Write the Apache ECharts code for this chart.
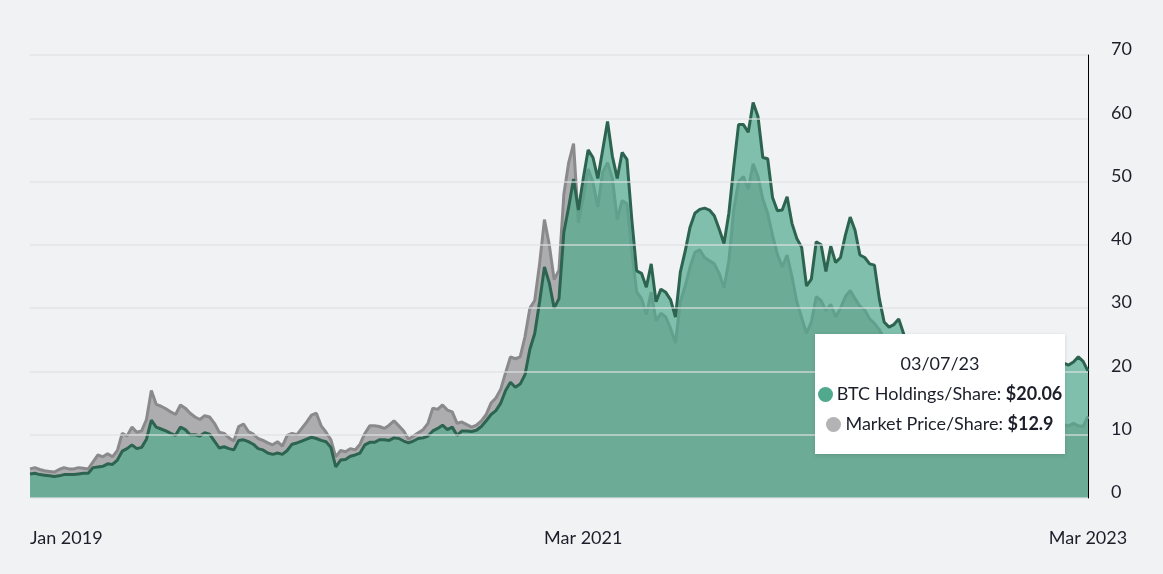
<!DOCTYPE html>
<html><head><meta charset="utf-8">
<script src="https://cdn.jsdelivr.net/npm/echarts@6/dist/echarts.min.js"></script>
<style>html,body{margin:0;padding:0;background:#f1f2f4}#c{width:1163px;height:574px}</style>
</head><body><div id="c"></div>
<script>
// Weekly observations, first date and step
const firstDate = '2019-01-01';
const stepDays = 7;

// BTC Holdings per share (USD), weekly
const holdings = [3.8,3.9,3.7,3.6,3.5,3.4,3.5,3.7,3.7,3.7,
3.8,3.9,3.9,4.8,4.9,5.0,5.4,5.3,6.0,7.4,
7.8,8.4,7.8,8.0,9.3,12.3,11.2,10.9,10.6,10.2,
9.9,11.2,10.8,10.0,10.0,9.8,10.3,10.1,9.0,7.9,
8.1,7.8,7.6,9.1,9.2,8.9,8.5,7.8,7.6,7.1,
6.9,7.1,6.9,7.5,8.5,8.7,9.0,9.3,9.6,9.4,
9.1,8.9,8.0,4.9,6.0,6.1,6.6,6.8,7.1,8.4,
8.8,8.8,9.2,9.2,9.1,9.5,9.4,9.0,8.7,9.0,
9.4,9.5,9.8,10.6,11.0,11.5,10.8,11.2,9.9,10.6,
10.6,10.5,10.7,11.3,12.2,13.2,13.8,15.0,17.0,18.3,
17.5,18.0,19.5,23.5,26.0,31.0,36.5,34.0,30.0,31.5,
42.0,46.0,50.4,45.5,50.5,55.0,53.8,50.5,55.0,59.5,
54.0,50.5,54.6,53.5,44.0,35.9,35.5,33.3,37.0,31.0,
33.0,32.5,31.3,28.6,35.7,39.0,42.8,45.0,45.6,45.8,
45.5,44.6,42.5,40.2,45.0,52.3,59.0,59.0,57.8,62.5,
60.3,53.8,53.6,47.5,45.4,45.5,47.6,43.4,41.0,39.6,
33.5,34.6,40.5,40.0,35.8,39.8,37.2,38.0,41.5,44.4,
42.3,38.4,38.0,37.0,36.8,31.5,27.8,27.0,27.4,28.3,
26.0,19.0,19.2,18.6,19.0,21.4,20.2,21.3,21.6,22.3,
19.6,18.9,18.2,20.0,17.9,18.0,18.4,17.8,17.9,18.5,
19.0,17.2,15.5,14.8,15.4,15.9,16.4,15.6,15.4,15.6,
16.5,19.3,20.8,21.3,21.0,21.5,22.3,21.6,20.06];

// Market price per share (USD), weekly
const market = [4.6,4.8,4.5,4.3,4.2,4.1,4.5,4.8,4.6,4.6,
4.8,4.7,4.6,5.7,6.8,6.5,7.0,6.5,7.5,10.2,
9.8,11.2,10.4,10.6,12.4,17.0,14.8,14.5,14.1,13.6,
13.2,14.7,14.2,13.4,12.8,12.4,13.0,12.8,11.8,10.4,
10.2,9.5,9.0,11.3,11.7,10.5,10.1,9.4,9.1,8.7,
8.4,8.9,8.2,9.9,10.2,10.0,11.0,12.0,13.1,13.4,
11.4,10.4,9.2,6.5,7.5,7.3,7.8,7.6,8.5,10.2,
11.4,11.4,11.3,11.0,11.5,12.2,11.4,10.6,9.3,9.8,
10.3,10.8,11.8,14.2,14.0,14.7,13.9,13.6,11.8,12.0,
11.6,11.2,11.5,12.2,13.2,15.0,15.8,17.2,19.8,22.3,
22.0,22.3,25.5,30.0,31.2,37.0,44.0,40.0,34.5,36.0,
48.0,53.0,56.0,43.5,47.5,52.0,49.9,46.0,51.5,53.0,
50.5,44.0,47.0,46.5,39.0,32.6,31.5,29.0,32.5,28.0,
29.2,28.6,26.8,24.5,31.0,33.5,36.5,38.8,39.2,38.0,
37.5,37.0,35.5,33.2,37.5,45.5,50.0,50.8,48.8,52.8,
50.8,47.2,45.0,41.5,38.5,36.5,38.4,35.0,31.0,28.5,
26.0,27.8,31.8,31.2,29.6,30.6,28.6,30.0,31.8,32.8,
31.5,30.3,29.7,28.3,27.6,26.6,25.2,24.0,23.4,22.8,
21.0,11.5,12.0,11.8,12.2,13.5,13.0,14.0,14.5,14.8,
13.2,12.6,12.0,13.0,11.8,11.5,11.8,11.2,11.0,11.4,
11.8,10.0,8.6,8.0,8.2,8.5,8.4,7.6,7.3,7.5,
8.5,10.2,11.0,11.6,11.4,11.8,11.4,11.3,12.9];

const seriesNames = ['BTC Holdings/Share', 'Market Price/Share'];
const xTickIndex = [0, 114, 218];
const xTickLabels = ['Jan 2019', 'Mar 2021', 'Mar 2023'];
const yTicks = [0, 10, 20, 30, 40, 50, 60, 70];
const tooltipIndex = 218;

const dates = [];
{
  const t0 = Date.parse(firstDate + 'T00:00:00Z');
  for (let i = 0; i < holdings.length; i++) {
    dates.push(new Date(t0 + i * stepDays * 86400000).toISOString().slice(0, 10));
  }
}
function fmtDate(s) { return s.slice(5, 7) + '/' + s.slice(8, 10) + '/' + s.slice(2, 4); }

const FONT = 'Lato, "Noto Sans", sans-serif';
const FS = 18;
const TXT = '#1c1f2a';
const GREEN = '#50a98c';
const GREY_MARK = '#b3b3b5';

const chart = echarts.init(document.getElementById('c'), null, {renderer: 'canvas'});
const gridLine = {color: 'rgba(224,225,229,0.8)', width: 1.5};

chart.setOption({
  animation: false,
  backgroundColor: '#f1f2f4',
  grid: {left: 30, right: 75, top: 55, bottom: 76},
  tooltip: {
    trigger: 'axis',
    triggerOn: 'none',
    alwaysShowContent: true,
    axisPointer: {type: 'none'},
    position: [815, 334],
    backgroundColor: '#ffffff',
    borderWidth: 0,
    padding: [14, 2, 16, 2],
    transitionDuration: 0,
    extraCssText: 'box-shadow:0 1px 4px rgba(0,0,0,0.13);border-radius:0;width:246px;text-align:center;',
    textStyle: {fontSize: FS, color: TXT, fontFamily: FONT},
    formatter: function (params) {
      const idx = params[0].dataIndex;
      const dot = c => '<span style="display:inline-block;width:15px;height:15px;border-radius:50%;background:' + c + ';vertical-align:-2px;margin-right:4px"></span>';
      return '<div style="line-height:30px;white-space:nowrap;font-family:' + FONT.replace(/"/g, "'") + ';font-size:' + FS + 'px;color:' + TXT + '">' +
        '<div>' + fmtDate(dates[idx]) + '</div>' +
        '<div>' + dot(GREEN) + seriesNames[0] + ': <b>$' + holdings[idx] + '</b></div>' +
        '<div>' + dot(GREY_MARK) + seriesNames[1] + ': <b>$' + market[idx] + '</b></div>' +
        '</div>';
    }
  },
  xAxis: {
    type: 'category',
    data: dates,
    boundaryGap: false,
    axisLine: {show: false},
    axisTick: {show: false},
    splitLine: {show: false},
    axisLabel: {
      interval: function (i) { return xTickIndex.indexOf(i) >= 0; },
      formatter: function (v, i) { const k = xTickIndex.indexOf(i); return k >= 0 ? xTickLabels[k] : ''; },
      margin: 31,
      fontSize: FS,
      fontFamily: FONT,
      color: TXT,
      alignMinLabel: 'left',
      alignMaxLabel: 'center',
      showMinLabel: true,
      showMaxLabel: true
    }
  },
  yAxis: [{
    type: 'value',
    position: 'right',
    min: yTicks[0], max: yTicks[yTicks.length - 1], interval: 10,
    axisLine: {show: true, lineStyle: {color: '#000', width: 1}},
    axisTick: {show: false},
    splitLine: {show: false},
    axisLabel: {
      margin: 23, align: 'left', verticalAlign: 'bottom', lineHeight: 11,
      fontSize: FS, fontFamily: FONT, color: TXT
    }
  }, {
    type: 'value',
    position: 'right',
    min: yTicks[0], max: yTicks[yTicks.length - 1], interval: 10,
    z: 10,
    axisLine: {show: false},
    axisTick: {show: false},
    axisLabel: {show: false},
    splitLine: {show: true, lineStyle: gridLine}
  }],
  series: [{
    name: seriesNames[1],
    type: 'line',
    data: market,
    symbol: 'none',
    z: 2,
    emphasis: {disabled: true},
    itemStyle: {color: GREY_MARK},
    lineStyle: {color: '#8a8a8c', width: 3},
    areaStyle: {color: '#adadb0', opacity: 1}
  }, {
    name: seriesNames[0],
    type: 'line',
    data: holdings,
    symbol: 'none',
    z: 3,
    emphasis: {disabled: true},
    itemStyle: {color: GREEN},
    lineStyle: {color: '#2d6450', width: 3},
    areaStyle: {color: GREEN, opacity: 0.7}
  }]
});
chart.dispatchAction({type: 'showTip', seriesIndex: 1, dataIndex: tooltipIndex});
</script></body></html>
